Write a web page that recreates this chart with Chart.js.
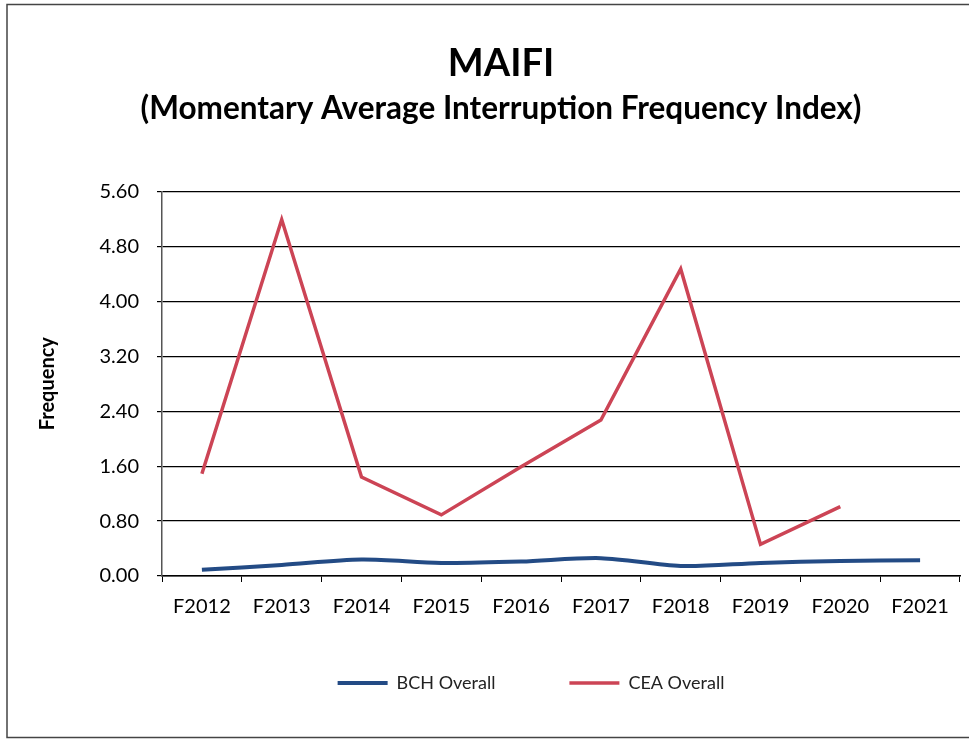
<!DOCTYPE html>
<html>
<head>
<meta charset="utf-8">
<script src="https://cdn.jsdelivr.net/npm/chart.js@4/dist/chart.umd.min.js"></script>
<style>
    body { margin: 0; background: #fff; }
    canvas { display: block; }
</style>
</head>
<body>
<canvas id="grafico" width="969" height="740"></canvas>
<script>
const anios = ["F2012","F2013","F2014","F2015","F2016","F2017","F2018","F2019","F2020","F2021"];
const bchOverall = [0.09, 0.16, 0.24, 0.19, 0.21, 0.26, 0.145, 0.19, 0.22, 0.23];
const ceaOverall = [1.49, 5.19, 1.44, 0.89, 1.59, 2.27, 4.47, 0.46, 1.01, null];
const ticksFrecuencia = [0, 0.8, 1.6, 2.4, 3.2, 4.0, 4.8, 5.6];

const fuente = "Lato, 'Open Sans', sans-serif";

// marco alrededor del grafico y posicion de la leyenda
const marco = {
    id: "marco",
    afterLayout(chart) {
        const l = chart.legend;
        const dx = 531 - (l.left + l.right) / 2;
        l.left += dx;
        l.right += dx;
        l.top -= 32;
        l.bottom -= 32;
    },
    afterDraw(chart) {
        const ctx = chart.ctx;
        ctx.save();
        ctx.strokeStyle = "#444";
        ctx.lineWidth = 1.5;
        ctx.strokeRect(7, 4.5, 975, 733);
        ctx.restore();
    }
};

function loadPage() {
    const data = {
        labels: anios,
        datasets: [
            {
                label: "BCH Overall",
                data: bchOverall,
                borderColor: "#234B85",
                backgroundColor: "#234B85",
                borderWidth: 4,
                pointRadius: 0,
                tension: 0.3
            },
            {
                label: "CEA Overall",
                data: ceaOverall,
                borderColor: "#CC4455",
                backgroundColor: "#CC4455",
                borderWidth: 3.5,
                pointRadius: 0,
                tension: 0
            }
        ]
    };
    const config = {
        type: "line",
        data: data,
        plugins: [marco],
        options: {
            responsive: false,
            animation: false,
            layout: { padding: { top: 0, left: 42, right: 9, bottom: 6 } },
            plugins: {
                title: {
                    display: true,
                    text: "MAIFI",
                    color: "#000",
                    font: { family: fuente, size: 38, weight: "bold" },
                    padding: { top: 41, bottom: 0 }
                },
                subtitle: {
                    display: true,
                    text: "(Momentary Average Interruption Frequency Index)",
                    color: "#000",
                    font: { family: fuente, size: 31.5, weight: "bold" },
                    padding: { top: 3, bottom: 64 }
                },
                legend: {
                    position: "bottom",
                    labels: {
                        usePointStyle: true,
                        pointStyle: "line",
                        pointStyleWidth: 50,
                        padding: 74,
                        color: "#222",
                        font: { family: fuente, size: 18 }
                    }
                },
                tooltip: { enabled: false }
            },
            scales: {
                x: {
                    offset: true,
                    grid: {
                        offset: true,
                        drawOnChartArea: false,
                        drawTicks: true,
                        tickLength: 6,
                        color: "#000"
                    },
                    border: { color: "#000", width: 1.5 },
                    ticks: {
                        color: "#000",
                        padding: 13,
                        maxRotation: 0,
                        font: { family: fuente, size: 20 }
                    }
                },
                y: {
                    min: 0,
                    max: 5.6,
                    afterFit(axis) { axis.width = 120; },
                    afterBuildTicks(axis) {
                        axis.ticks = ticksFrecuencia.map(v => ({ value: v }));
                    },
                    grid: {
                        color: "#000",
                        lineWidth: 1.2,
                        tickLength: 5
                    },
                    border: { color: "#555", width: 1.5 },
                    ticks: {
                        color: "#000",
                        padding: 18,
                        font: { family: fuente, size: 20 },
                        callback: v => Number(v).toFixed(2)
                    },
                    title: {
                        display: true,
                        text: "Frequency",
                        color: "#000",
                        padding: { top: -6, bottom: 0 },
                        font: { family: fuente, size: 20, weight: "bold" }
                    }
                }
            }
        }
    };
    new Chart(document.getElementById("grafico").getContext("2d"), config);
}
window.addEventListener("DOMContentLoaded", loadPage);
</script>
</body>
</html>
